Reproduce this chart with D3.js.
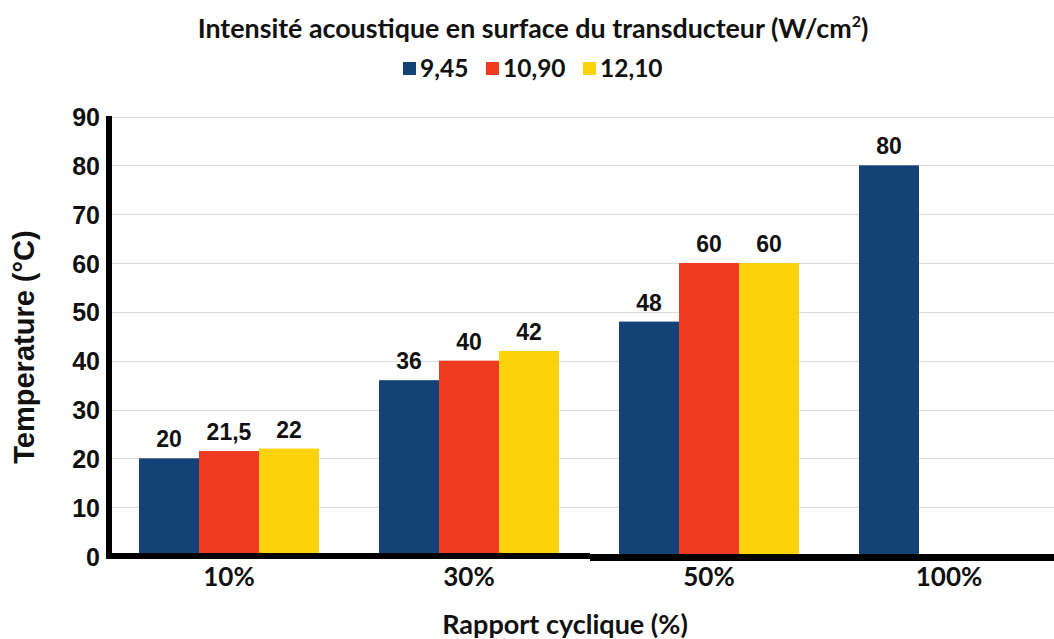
<!DOCTYPE html>
<html>
<head>
<meta charset="utf-8">
<script src="https://cdn.jsdelivr.net/npm/d3@7"></script>
<style>
  html, body { margin: 0; padding: 0; background: #fff; }
  svg { display: block; }
</style>
</head>
<body>
<script>
// Duty cycle categories and surface temperature per acoustic intensity
const categories = ["10%", "30%", "50%", "100%"];
const seriesNames = ["9,45", "10,90", "12,10"];
const values945  = [20, 36, 48, 80];
const values1090 = [21.5, 40, 60, null];
const values1210 = [22, 42, 60, null];
const yTicks = [0, 10, 20, 30, 40, 50, 60, 70, 80, 90];
const colors = ["#134277", "#ee3b22", "#fcd20b"];

const seriesValues = [values945, values1090, values1210];
const W = 1054, H = 639;

const svg = d3.select("body").append("svg").attr("width", W).attr("height", H);

const x = d3.scaleBand().domain(categories).range([109, 1069]).paddingInner(0).paddingOuter(0);
const xs = d3.scaleBand().domain(seriesNames).range([30, 210]);
const y = d3.scaleLinear().domain([0, 90]).range([556, 116.5]);

const fmt = v => String(v).replace(".", ",");

// horizontal gridlines
svg.append("g").selectAll("line").data(yTicks.filter(d => d > 0)).join("line")
  .attr("x1", 109).attr("x2", W)
  .attr("y1", d => Math.round(y(d)) + 0.5).attr("y2", d => Math.round(y(d)) + 0.5)
  .attr("stroke", "#dcdcdc").attr("stroke-width", 1);

// bars and value labels
const groups = svg.append("g").selectAll("g").data(categories).join("g")
  .attr("transform", d => `translate(${x(d)},0)`);

seriesNames.forEach((s, si) => {
  const val = d => seriesValues[si][categories.indexOf(d)];
  const present = groups.filter(d => val(d) != null);

  present.append("rect")
    .attr("x", xs(s))
    .attr("width", xs.bandwidth())
    .attr("y", d => y(val(d)))
    .attr("height", d => y(0) - y(val(d)))
    .attr("fill", colors[si]);

  present.append("text")
    .attr("x", xs(s) + xs.bandwidth() / 2)
    .attr("y", d => y(val(d)) - 11)
    .attr("text-anchor", "middle")
    .attr("font-family", "Liberation Sans, Arial, sans-serif")
    .attr("font-weight", "bold")
    .attr("font-size", 23)
    .attr("fill", "#111")
    .text(d => fmt(val(d)));
});

// y axis
const yAxis = d3.axisLeft(y).tickValues(yTicks).tickSize(0).tickPadding(8);
const gy = svg.append("g").attr("transform", "translate(100,0)").call(yAxis);
gy.select(".domain").remove();
gy.selectAll("text")
  .attr("font-family", "Liberation Sans, Arial, sans-serif")
  .attr("font-weight", "bold")
  .attr("font-size", 25)
  .attr("fill", "#111")
  .attr("x", 0)
  .attr("dy", "0.36em");

// axis lines
svg.append("line").attr("x1", 109).attr("x2", 109).attr("y1", 116).attr("y2", 559)
  .attr("stroke", "#000").attr("stroke-width", 6);
svg.append("line").attr("x1", 106).attr("x2", 590).attr("y1", 556).attr("y2", 556)
  .attr("stroke", "#000").attr("stroke-width", 6);
svg.append("line").attr("x1", 590).attr("x2", W).attr("y1", 557.5).attr("y2", 557.5)
  .attr("stroke", "#000").attr("stroke-width", 7);

// x axis labels
const xAxis = d3.axisBottom(x).tickSize(0).tickPadding(0);
const gx = svg.append("g").attr("transform", "translate(0,586)").call(xAxis);
gx.select(".domain").remove();
gx.selectAll("text")
  .attr("font-family", "Lato, sans-serif")
  .attr("font-weight", "bold")
  .attr("font-size", 26)
  .attr("fill", "#111")
  .attr("y", 0)
  .attr("dy", 0);

// axis titles
svg.append("text")
  .attr("x", 565).attr("y", 634)
  .attr("text-anchor", "middle")
  .attr("font-family", "Lato, sans-serif")
  .attr("font-weight", "bold")
  .attr("font-size", 27)
  .attr("fill", "#111")
  .text("Rapport cyclique (%)");

svg.append("text")
  .attr("transform", "translate(34,347) rotate(-90)")
  .attr("text-anchor", "middle")
  .attr("font-family", "Liberation Sans, Arial, sans-serif")
  .attr("font-weight", "bold")
  .attr("font-size", 29)
  .attr("fill", "#111")
  .text("Temperature (°C)");

// chart title
const title = svg.append("text")
  .attr("x", 533).attr("y", 38)
  .attr("text-anchor", "middle")
  .attr("font-family", "Lato, sans-serif")
  .attr("font-weight", "bold")
  .attr("font-size", 26.8)
  .attr("fill", "#111");
title.append("tspan").text("Intensité acoustique en surface du transducteur (W/cm");
title.append("tspan").attr("font-size", 16).attr("dy", -11).text("2");
title.append("tspan").attr("dy", 11).text(")");

// legend
const legendX = [403, 486, 583];
const legend = svg.append("g").selectAll("g").data(seriesNames).join("g")
  .attr("transform", (d, i) => `translate(${legendX[i]},0)`);
legend.append("rect").attr("x", 0).attr("y", 62).attr("width", 13).attr("height", 13)
  .attr("fill", (d, i) => colors[i]);
legend.append("text").attr("x", 17).attr("y", 77)
  .attr("font-family", "Lato, sans-serif")
  .attr("font-weight", "bold")
  .attr("font-size", 24.5)
  .attr("fill", "#111")
  .text(d => d);
</script>
</body>
</html>
